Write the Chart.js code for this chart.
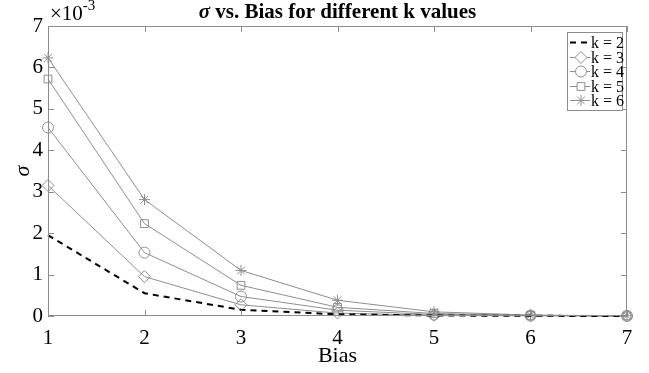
<!DOCTYPE html>
<html>
<head>
<meta charset="utf-8">
<script src="https://cdn.jsdelivr.net/npm/chart.js@4/dist/chart.umd.min.js"></script>
<style>
  body { margin: 0; background: #fff; }
  #wrap { width: 649px; height: 373px; }
</style>
</head>
<body>
<div id="wrap"><canvas id="sigmaChart" width="649" height="373"></canvas></div>
<script>
// bias values on the x axis
const bias = [1, 2, 3, 4, 5, 6, 7];
// sigma values (units of 1e-3)
const k2 = [1.95, 0.55, 0.15, 0.04, 0.012, 0.004, 0.001];
const k3 = [3.15, 0.95, 0.27, 0.07, 0.018, 0.005, 0.001];
const k4 = [4.55, 1.53, 0.47, 0.14, 0.035, 0.01, 0.002];
const k5 = [5.72, 2.23, 0.74, 0.21, 0.06, 0.015, 0.003];
const k6 = [6.23, 2.81, 1.10, 0.38, 0.10, 0.022, 0.005];
const kLabels = ['k = 2', 'k = 3', 'k = 4', 'k = 5', 'k = 6'];
const yTicks = [0, 1, 2, 3, 4, 5, 6, 7];

const serif = "'Liberation Serif', 'Times New Roman', serif";
const axisGrey = '#8c8c8c';
const lineGrey = '#8e8e8e';

function scaled(arr) { return arr.map(v => v / 1000); }

// MATLAB-like box, inward ticks, title, exponent and legend
const matlabStyle = {
    id: 'matlabStyle',
    afterDraw(chart) {
        const ctx = chart.ctx;
        const a = chart.chartArea;
        const xs = chart.scales.x, ys = chart.scales.y;
        ctx.save();
        ctx.strokeStyle = axisGrey;
        ctx.lineWidth = 1;
        ctx.strokeRect(a.left + 0.5, a.top + 0.5, a.right - a.left - 1, a.bottom - a.top - 1);
        const tl = 6;
        ctx.beginPath();
        bias.forEach((b, i) => {
            const px = Math.round(xs.getPixelForValue(i)) + 0.5;
            ctx.moveTo(px, a.bottom); ctx.lineTo(px, a.bottom - tl);
            ctx.moveTo(px, a.top); ctx.lineTo(px, a.top + tl);
        });
        yTicks.forEach(t => {
            const py = Math.round(ys.getPixelForValue(t / 1000)) + 0.5;
            ctx.moveTo(a.left, py); ctx.lineTo(a.left + tl, py);
            ctx.moveTo(a.right, py); ctx.lineTo(a.right - tl, py);
        });
        ctx.stroke();

        // title with italic sigma
        ctx.fillStyle = '#000';
        ctx.textBaseline = 'middle';
        const f1 = "italic bold 21px " + serif, f2 = "bold 21px " + serif;
        const t1 = 'σ', t2 = ' vs. Bias for different k values';
        ctx.font = f1; const w1 = ctx.measureText(t1).width;
        ctx.font = f2; const w2 = ctx.measureText(t2).width;
        let tx = (a.left + a.right) / 2 - (w1 + w2) / 2;
        ctx.textAlign = 'left';
        ctx.font = f1; ctx.fillText(t1, tx, 13);
        ctx.font = f2; ctx.fillText(t2, tx + w1, 13);

        // exponent label
        ctx.font = "21px " + serif;
        ctx.fillText('×10', 50, 14);
        const wx = ctx.measureText('×10').width;
        ctx.font = "15px " + serif;
        ctx.fillText('-3', 50 + wx, 6);

        // legend
        const lx = 567, ly = 32, lw = 55, lh = 78;
        ctx.fillStyle = '#fff';
        ctx.fillRect(lx, ly, lw, lh);
        ctx.strokeStyle = axisGrey;
        ctx.strokeRect(lx + 0.5, ly + 0.5, lw, lh);
        chart.data.datasets.forEach((ds, i) => {
            const cy = Math.round(ly + 10 + i * 14.6) + 0.5;
            ctx.save();
            ctx.strokeStyle = ds.borderColor;
            ctx.lineWidth = ds.borderWidth;
            ctx.setLineDash(ds.borderDash || []);
            ctx.beginPath();
            ctx.moveTo(lx + 3, cy); ctx.lineTo(lx + 23, cy);
            ctx.stroke();
            ctx.restore();
            if (ds.pointStyle) {
                ctx.save();
                ctx.fillStyle = '#fff';
                ctx.strokeStyle = lineGrey;
                ctx.lineWidth = 1;
                Chart.helpers.drawPoint(ctx, {
                    pointStyle: ds.pointStyle, radius: ds.pointRadius,
                    borderWidth: 1, rotation: 0
                }, lx + 14, cy);
                ctx.restore();
            }
            ctx.fillStyle = '#000';
            ctx.font = "16px " + serif;
            ctx.textAlign = 'left';
            ctx.fillText(ds.label, lx + 24, cy + 1);
        });
        ctx.restore();
    }
};

function series(label, values, style, radius) {
    return {
        label: label,
        data: scaled(values),
        borderColor: lineGrey,
        borderWidth: 1,
        pointStyle: style,
        pointRadius: radius,
        pointBorderColor: lineGrey,
        pointBackgroundColor: 'rgba(0,0,0,0)',
        pointBorderWidth: 1,
        tension: 0,
        clip: false
    };
}

const ctxEl = document.getElementById('sigmaChart');
new Chart(ctxEl, {
    type: 'line',
    data: {
        labels: bias,
        datasets: [
            {
                label: kLabels[0], data: scaled(k2),
                borderColor: '#000', borderWidth: 2, borderDash: [6, 5],
                pointRadius: 0, pointStyle: false, tension: 0, clip: false
            },
            series(kLabels[1], k3, 'rectRot', 6),
            series(kLabels[2], k4, 'circle', 5.5),
            series(kLabels[3], k5, 'rect', 5.5),
            series(kLabels[4], k6, 'star', 5.5)
        ]
    },
    plugins: [matlabStyle],
    options: {
        responsive: false,
        animation: false,
        events: [],
        layout: { padding: { top: 26, right: 22, left: 0, bottom: 0 } },
        plugins: { legend: { display: false }, title: { display: false }, tooltip: { enabled: false } },
        scales: {
            x: {
                type: 'category',
                offset: false,
                grid: { display: false, drawTicks: false },
                border: { display: false },
                ticks: { color: '#000', padding: 10, font: { family: serif, size: 21 }, maxRotation: 0 },
                title: { display: true, text: 'Bias', color: '#000', font: { family: serif, size: 22 }, padding: { top: 0, bottom: 4 } },
                afterFit: s => { s.height = 57; }
            },
            y: {
                min: 0, max: 0.007,
                grid: { display: false, drawTicks: false },
                border: { display: false },
                afterBuildTicks: s => { s.ticks = yTicks.map(t => ({ value: t / 1000 })); },
                ticks: {
                    color: '#000', padding: 5,
                    font: { family: serif, size: 21 },
                    callback: v => String(Math.round(v * 1000))
                },
                title: { display: true, text: 'σ', color: '#000', font: { family: serif, size: 22, style: 'italic' }, padding: { top: 10, bottom: 0 } },
                afterFit: s => { s.width = 48; }
            }
        }
    }
});
</script>
</body>
</html>
